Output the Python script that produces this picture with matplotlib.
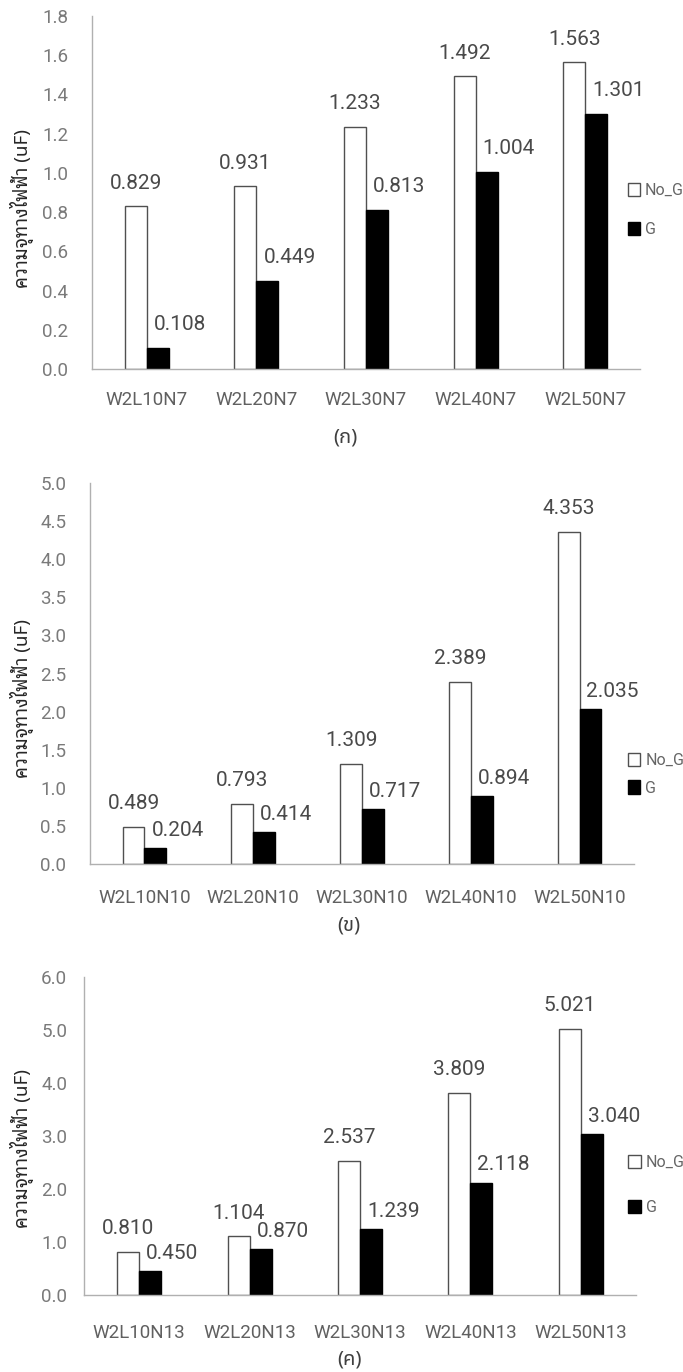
import matplotlib
matplotlib.use("Agg")
import matplotlib.pyplot as plt
import numpy as np

plt.rcParams['font.family'] = ['Roboto', 'Noto Sans Thai', 'DejaVu Sans']

# values (uF)
cats_a = ["W2L10N7", "W2L20N7", "W2L30N7", "W2L40N7", "W2L50N7"]
nog_a = [0.829, 0.931, 1.233, 1.492, 1.563]
g_a = [0.108, 0.449, 0.813, 1.004, 1.301]

cats_b = ["W2L10N10", "W2L20N10", "W2L30N10", "W2L40N10", "W2L50N10"]
nog_b = [0.489, 0.793, 1.309, 2.389, 4.353]
g_b = [0.204, 0.414, 0.717, 0.894, 2.035]

cats_c = ["W2L10N13", "W2L20N13", "W2L30N13", "W2L40N13", "W2L50N13"]
nog_c = [0.810, 1.104, 2.537, 3.809, 5.021]
g_c = [0.450, 0.870, 1.239, 2.118, 3.040]

ylabel = "ความจุทางไฟฟ้า (uF)"
captions = ["(ก)", "(ข)", "(ค)"]

W, H = 683, 1372
fig = plt.figure(figsize=(W / 100, H / 100), dpi=100)
fig.patch.set_facecolor("white")


def px_axes(left, top, right, bottom):
    return fig.add_axes([left / W, 1 - bottom / H, (right - left) / W, (bottom - top) / H])


def draw_panel(ax, cats, nog, g, ymax, ystep, ypad, xpad, g_dy, leg_x, leg_y, leg_space):
    x = np.arange(len(cats))
    width = 0.2
    b1 = ax.bar(x - width / 2, nog, width, color="white", edgecolor="#505050", linewidth=1.0, label="No_G")
    b2 = ax.bar(x + width / 2, g, width, color="black", edgecolor="black", linewidth=1.0, label="G")
    ax.set_xlim(-0.5, len(cats) - 0.5)
    ax.set_ylim(0, ymax)
    ax.set_yticks(np.arange(0, ymax + ystep / 2, ystep))
    ax.yaxis.set_major_formatter(matplotlib.ticker.FormatStrFormatter("%.1f"))
    ax.set_xticks(x)
    ax.set_xticklabels(cats)
    for s in ["top", "right"]:
        ax.spines[s].set_visible(False)
    for s in ["left", "bottom"]:
        ax.spines[s].set_color("#b0b0b0")
        ax.spines[s].set_linewidth(1.0)
    ax.tick_params(axis="y", length=0, pad=ypad, labelsize=13.5, labelcolor="#7a7a7a")
    ax.tick_params(axis="x", length=0, pad=xpad, labelsize=13.5, labelcolor="#606060")
    for rect, v in zip(b1, nog):
        ax.annotate("{:.3f}".format(v), xy=(rect.get_x() + rect.get_width() / 2, v),
                    xytext=(0, 10), textcoords="offset points",
                    ha="center", va="bottom", fontsize=15, color="#4a4a4a")
    for rect, v in zip(b2, g):
        ax.annotate("{:.3f}".format(v), xy=(rect.get_x() + rect.get_width() / 2, v),
                    xytext=(16, g_dy), textcoords="offset points",
                    ha="center", va="bottom", fontsize=15, color="#4a4a4a")
    ax.legend(loc="center left", bbox_to_anchor=(leg_x, leg_y), frameon=False,
              handlelength=0.8, handleheight=0.9, handletextpad=0.3,
              labelspacing=leg_space, fontsize=11.5, labelcolor="#666666")


ax1 = px_axes(92, 16, 640, 369)
draw_panel(ax1, cats_a, nog_a, g_a, 1.8, 0.2, 17, 16, 10, 0.951, 0.450, 1.5)
ax2 = px_axes(90, 483, 634, 864)
draw_panel(ax2, cats_b, nog_b, g_b, 5.0, 0.5, 17, 18, 6, 0.962, 0.236, 0.8)
ax3 = px_axes(84, 977, 636, 1295)
draw_panel(ax3, cats_c, nog_c, g_c, 6.0, 1.0, 12, 21, 6, 0.960, 0.346, 1.9)

for yc in [209, 698, 1148]:
    fig.text(22 / W, 1 - yc / H, ylabel, rotation=90, ha="center", va="center",
             fontsize=13.5, fontweight="bold", color="#262626",
             family=["Noto Sans Thai Looped", "Noto Sans Thai", "DejaVu Sans"])

for cap, xc, yc in zip(captions, [345, 349, 349], [438, 925, 1360]):
    fig.text(xc / W, 1 - yc / H, cap, ha="center", va="center",
             fontsize=14.5, color="#404040", family=["Noto Sans Thai", "DejaVu Sans"])

fig.savefig("out.png", dpi=100)
